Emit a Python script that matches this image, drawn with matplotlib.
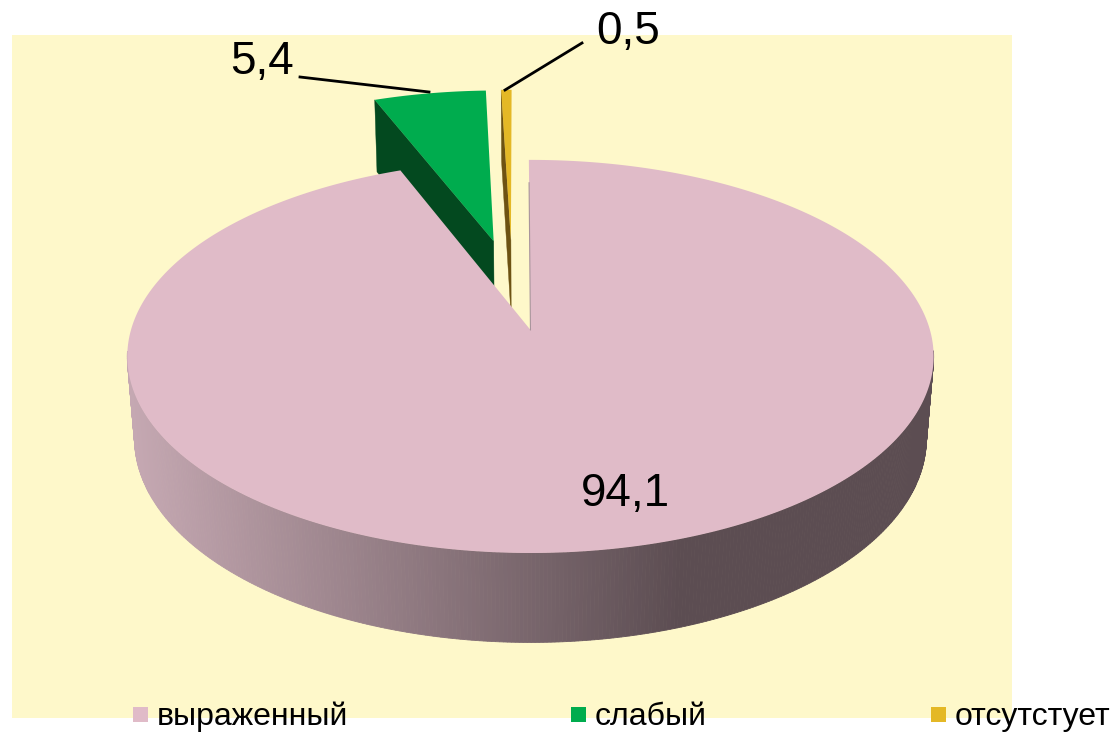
import numpy as np
import matplotlib
matplotlib.use("Agg")
import matplotlib.pyplot as plt
from matplotlib.patches import Polygon, Rectangle

plt.rcParams['font.family'] = ['Liberation Sans', 'DejaVu Sans']

# chart data
legend_labels = ["выраженный", "слабый", "отсутстует"]
values = [94.1, 5.4, 0.5]
value_labels = ["94,1", "5,4", "0,5"]

top_colors = ["#E0BBC8", "#00AC4E", "#E4B826"]
wall_colors = ["#8F7A82", "#03491F", "#6D5212"]
BG = "#FEF8CA"

# projection of the 3D pie onto the picture
X0, Y0 = 530, 330
A, B = 399.5, 193
K, M, H = -0.135, 0.018, 83
CENTER = (-0.046, -0.246)
EXPLODE = 0.25
START = -0.25


def project(u, v, z=0.0):
    w = 1 + K * v + M * z
    return X0 + A * u / w, Y0 + (B * v + H * z) / w


def disc(t):
    # degrees clockwise from the top, v grows toward the viewer
    return np.sin(np.radians(t)), -np.cos(np.radians(t))


def rim_color(x):
    r = np.interp(x, [130, 680], [197, 92])
    g = np.interp(x, [130, 680], [168, 77])
    b = np.interp(x, [130, 680], [178, 82])
    return (r / 255, g / 255, b / 255)


fig = plt.figure(figsize=(11.17, 7.34), dpi=100)
ax = fig.add_axes([0, 0, 1, 1])
ax.set_xlim(0, 1117)
ax.set_ylim(734, 0)
ax.axis("off")

ax.add_patch(Rectangle((12, 35), 1000, 683, facecolor=BG, edgecolor="none", zorder=0))

# slice angles
stops = START + np.cumsum([0] + values) * 3.6
slices = []
for i in range(len(values)):
    slices.append((i, stops[i], stops[i + 1]))

z = 1
# back slices first, the big one goes on top of them
for i, t0, t1 in reversed(slices):
    mid = (t0 + t1) / 2
    du, dv = disc(mid)
    cu = CENTER[0] + EXPLODE * du
    cv = CENTER[1] + EXPLODE * dv

    angles = np.linspace(t0, t1, max(int(t1 - t0) * 2, 4))
    us, vs = disc(angles)
    us = cu + us
    vs = cv + vs

    # cut wall, only the left one of the small slices can be seen
    if i > 0:
        wall = [project(cu, cv), project(us[0], vs[0]),
                project(us[0], vs[0], 1), project(cu, cv, 1)]
        ax.add_patch(Polygon(wall, facecolor=wall_colors[i], edgecolor=wall_colors[i],
                             lw=0.3, zorder=z))
        z += 1

    # outer side as thin strips so the shade can change along x
    for j in range(len(angles) - 1):
        if vs[j] < 0.1 or vs[j + 1] < 0.1:
            continue
        a = project(us[j], vs[j])
        b = project(us[j + 1], vs[j + 1])
        c = project(us[j + 1], vs[j + 1], 1)
        d = project(us[j], vs[j], 1)
        col = rim_color((a[0] + b[0]) / 2) if i == 0 else wall_colors[i]
        ax.add_patch(Polygon([a, b, c, d], facecolor=col, edgecolor=col, lw=0.6, zorder=z))
    z += 1

    # top face
    pts = [project(cu, cv)] + [project(u, v) for u, v in zip(us, vs)]
    ax.add_patch(Polygon(pts, facecolor=top_colors[i], edgecolor="none", zorder=z))
    z += 1

    if i == 0:
        # thin grey edge where the big slice starts
        su, sv = disc(t0)
        p0 = project(cu, cv)
        p1 = project(cu + 0.85 * su, cv + 0.85 * sv)
        ax.plot([p0[0], p1[0]], [p0[1], p1[1]], color="#A8949C", lw=0.8, zorder=z)
        z += 1

# value labels and leader lines
ax.text(625, 494, value_labels[0], fontsize=33, ha="center", va="center", zorder=z)
ax.text(262, 62, value_labels[1], fontsize=33, ha="center", va="center", zorder=z)
ax.text(628, 32, value_labels[2], fontsize=33, ha="center", va="center", zorder=z)
ax.plot([300, 429], [77, 92], color="black", lw=2, zorder=z)
ax.plot([582, 505], [43, 90], color="black", lw=2, zorder=z)

# legend
legend_x = [133, 571, 931]
for i in range(len(values)):
    ax.add_patch(Rectangle((legend_x[i], 707), 15, 15, facecolor=top_colors[i],
                           edgecolor="none", zorder=z))
    ax.text(legend_x[i] + 24, 725, legend_labels[i], fontsize=23, ha="left", va="baseline",
            zorder=z)

fig.savefig("out.png", dpi=100)
